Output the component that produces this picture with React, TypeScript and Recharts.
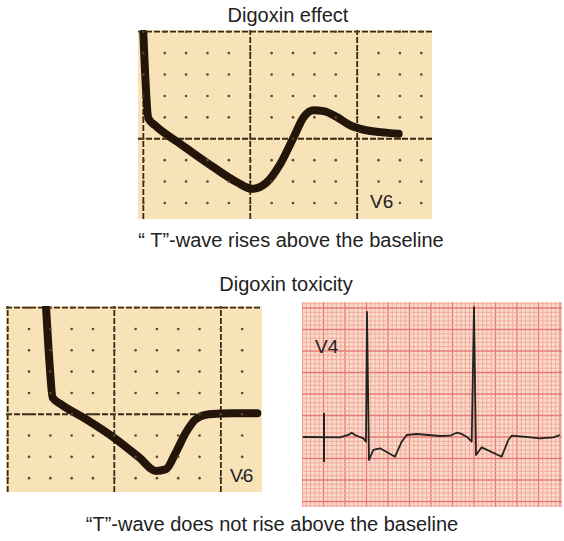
import { ComposedChart, Line, Scatter, XAxis, YAxis, ReferenceLine } from 'recharts'

// px per small box on the photographed strips
const BOX = 21.35
// px per mm on the pink ECG paper
const MM = 4.3

// Digoxin effect, V6 (x, y in small boxes; 0 = baseline)
const effectTime = [-5.0, -4.76, -4.45, -3.28, -1.72, -0.62, 0.08, 0.78, 1.41, 2.03, 2.5, 2.97, 3.43, 4.06, 4.68, 5.31, 6.09, 6.94]
const effectVolt = [4.92, 0.94, 0.62, -0.23, -1.33, -2.03, -2.34, -2.03, -1.17, 0.07, 1.01, 1.33, 1.29, 1.01, 0.62, 0.42, 0.31, 0.23]

// Digoxin toxicity, V6
const toxTime = [-3.2, -3.04, -2.89, -2.5, -1.33, 0.08, 1.17, 1.95, 2.42, 2.89, 3.36, 3.83, 4.45, 5.54, 6.71]
const toxVolt = [5.0, 2.42, 0.78, 0.47, -0.23, -1.17, -2.03, -2.66, -2.58, -1.79, -0.86, -0.23, 0.0, 0.05, 0.05]

// Digoxin toxicity, V4 rhythm strip (mm)
const ecgTime = [0.23, 8.84, 10.77, 11.56, 12.33, 14.26, 14.88, 15.12, 15.58, 16.58, 18.14, 21.63, 23.19, 24.35, 26.67, 32.09, 34.42, 35.98, 37.14, 38.3, 39.47, 40.0, 40.47, 41.79, 46.44, 47.98, 48.77, 51.47, 55.35, 58.44, 60.0]
const ecgVolt = [0, -0.07, 0.47, 1.0, 0.47, -0.3, -1.09, 29.07, -5.35, -3.02, -2.63, -4.58, -1.09, 0.47, 0.7, 0.23, 0.3, 1.0, 0.7, 0.07, -1.09, 30.23, -4.19, -2.4, -4.58, -0.7, 0.3, 0.07, -0.3, -0.07, 0.47]
const calTime = [5.12, 5.12]
const calVolt = [5.58, -5.81]

const range = (a: number, b: number) => Array.from({ length: b - a + 1 }, (_, i) => a + i)
const zip = (xs: number[], ys: number[]) => xs.map((x, i) => ({ x, y: ys[i] }))

type StripProps = {
  left: number
  top: number
  xDomain: [number, number]
  yDomain: [number, number]
  minorX: number[]
  minorY: number[]
  majorX: number[]
  majorY: number[]
  trace: { x: number; y: number }[]
}

function DotStrip({ left, top, xDomain, yDomain, minorX, minorY, majorX, majorY, trace }: StripProps) {
  const w = Math.round((xDomain[1] - xDomain[0]) * BOX)
  const h = Math.round((yDomain[1] - yDomain[0]) * BOX)
  const dots = minorX.flatMap((x) => minorY.map((y) => ({ x, y })))
  return (
    <div style={{ position: 'absolute', left, top, width: w, height: h, background: '#f8e2b8' }}>
      <ComposedChart width={w} height={h} margin={{ top: 0, right: 0, bottom: 0, left: 0 }}>
        <XAxis type="number" dataKey="x" domain={xDomain} allowDataOverflow hide />
        <YAxis type="number" dataKey="y" domain={yDomain} allowDataOverflow hide />
        {majorX.map((x) => (
          <ReferenceLine key={'vx' + x} x={x} stroke="#3a2816" strokeWidth={1.8} strokeDasharray="6 2" />
        ))}
        {majorY.map((y) => (
          <ReferenceLine key={'hy' + y} y={y} stroke="#3a2816" strokeWidth={1.8} strokeDasharray="6 2" />
        ))}
        <Scatter
          data={dots}
          isAnimationActive={false}
          shape={(p: any) => <circle cx={p.cx} cy={p.cy} r={1.3} fill="#5a4530" />}
        />
        <Line
          data={trace}
          dataKey="y"
          type="monotone"
          stroke="#24150a"
          strokeWidth={8}
          strokeLinecap="round"
          strokeLinejoin="round"
          dot={false}
          isAnimationActive={false}
        />
      </ComposedChart>
    </div>
  )
}

function EcgPaper() {
  const xDomain: [number, number] = [0, 60.47]
  const yDomain: [number, number] = [-16.28, 31.4]
  const w = Math.round((xDomain[1] - xDomain[0]) * MM)
  const h = Math.round((yDomain[1] - yDomain[0]) * MM)
  const vx = range(0, 60)
  const hy = range(-16, 31)
  return (
    <div style={{ position: 'absolute', left: 302, top: 302, width: w, height: h, background: '#fadccb' }}>
      <ComposedChart width={w} height={h} margin={{ top: 0, right: 0, bottom: 0, left: 0 }}>
        <XAxis type="number" dataKey="x" domain={xDomain} allowDataOverflow hide />
        <YAxis type="number" dataKey="y" domain={yDomain} allowDataOverflow hide />
        {vx.map((x) => (
          <ReferenceLine key={'vx' + x} x={x} stroke={x % 5 === 0 ? '#e8787a' : '#f0a69b'} strokeWidth={x % 5 === 0 ? 1.3 : 0.9} />
        ))}
        {hy.map((y) => (
          <ReferenceLine key={'hy' + y} y={y} stroke={y % 5 === 0 ? '#e8787a' : '#f0a69b'} strokeWidth={y % 5 === 0 ? 1.3 : 0.9} />
        ))}
        <Line
          data={zip(calTime, calVolt)}
          dataKey="y"
          type="linear"
          stroke="#23231e"
          strokeWidth={2}
          dot={false}
          isAnimationActive={false}
        />
        <Line
          data={zip(ecgTime, ecgVolt)}
          dataKey="y"
          type="linear"
          stroke="#23231e"
          strokeWidth={1.8}
          strokeLinejoin="round"
          dot={false}
          isAnimationActive={false}
        />
      </ComposedChart>
    </div>
  )
}

export default function App() {
  const font = { fontFamily: '"Liberation Sans", Arial, sans-serif', fill: '#222' }
  return (
    <div style={{ position: 'absolute', left: 0, top: 0, width: 564, height: 541, background: '#fff', overflow: 'hidden' }}>
      <DotStrip
        left={138}
        top={30}
        xDomain={[-5.25, 8.5]}
        yDomain={[-3.75, 5.08]}
        minorX={range(-5, 8)}
        minorY={range(-3, 5)}
        majorX={[-5, 0, 5]}
        majorY={[0, 5]}
        trace={zip(effectTime, effectVolt)}
      />
      <DotStrip
        left={6}
        top={306}
        xDomain={[-5.08, 6.93]}
        yDomain={[-3.65, 5.08]}
        minorX={range(-5, 6)}
        minorY={range(-3, 5)}
        majorX={[-5, 0, 5]}
        majorY={[0, 5]}
        trace={zip(toxTime, toxVolt)}
      />
      <EcgPaper />
      <svg width={564} height={541} style={{ position: 'absolute', left: 0, top: 0, pointerEvents: 'none' }}>
        <text x={288} y={22} textAnchor="middle" fontSize={20} {...font}>Digoxin effect</text>
        <text x={291} y={247} textAnchor="middle" fontSize={20} {...font}>“ T”-wave rises above the baseline</text>
        <text x={286} y={291} textAnchor="middle" fontSize={20} {...font}>Digoxin toxicity</text>
        <text x={272} y={531} textAnchor="middle" fontSize={20} {...font}>“T”-wave does not rise above the baseline</text>
        <text x={370} y={208} fontSize={19} {...font}>V6</text>
        <text x={230} y={482} fontSize={19} {...font}>V6</text>
        <text x={315} y={353} fontSize={19} {...font}>V4</text>
      </svg>
    </div>
  )
}
